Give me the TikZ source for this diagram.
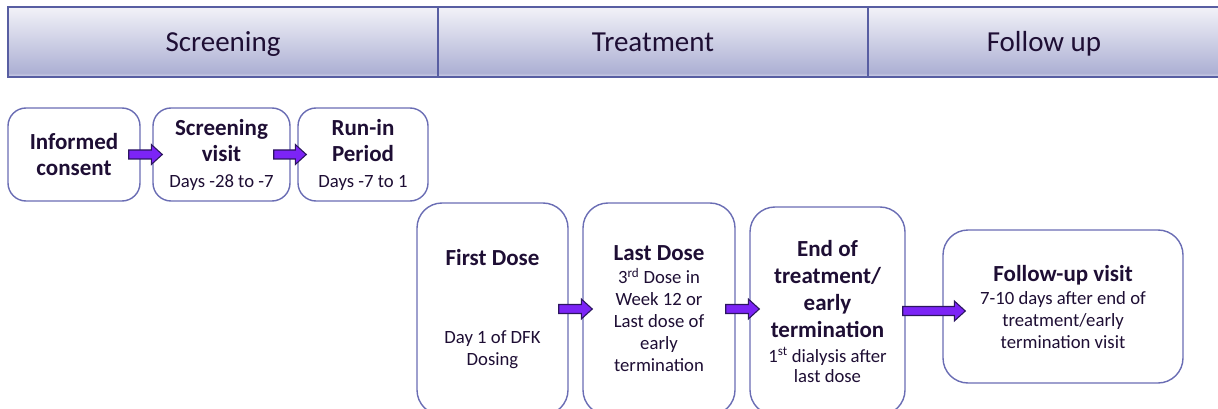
\documentclass[tikz,border=0pt]{standalone}
\usepackage{fontspec}
\setmainfont{Carlito}
\usepackage{tikz}
\usetikzlibrary{
	arrows.meta, positioning, calc
}
\definecolor{hdrtop}   {RGB}{242, 242, 248}
\definecolor{hdrbot}   {RGB}{173, 176, 212}
\definecolor{hdrlite}  {RGB}{214, 216, 236}
\definecolor{hdrline}  {RGB}{ 88,  94, 162}
\definecolor{boxline}  {RGB}{106, 109, 180}
\definecolor{flowfill} {RGB}{124,  36, 246}
\definecolor{flowline} {RGB}{ 44,  22,  96}
\definecolor{inktext}  {RGB}{ 30,  14,  52}

\pgfdeclareverticalshading{phaseshade}{100bp}{color(0bp)=(hdrbot); color(25bp)=(hdrlite); color(28bp)=(hdrbot); color(75bp)=(hdrtop); color(100bp)=(hdrtop)}

\newcommand{\hbold}{\fontsize{23}{26}\selectfont\bfseries}
\newcommand{\hsmall}{\fontsize{18.7}{22}\selectfont\mdseries}

% block arrow from one box into the next
\newcommand{\flow}[4]{%
	\draw[flowarrow] ($(#1.east)+(#3,-4.5)$) -- ($(#2.west |- #1.east)+(#4-11,-4.5)$) -- ++(0,-5.5)
		-- ($(#2.west |- #1.east)+(#4,0)$) -- ($(#2.west |- #1.east)+(#4-11,10)$) -- ++(0,-5.5)
		-- ($(#1.east)+(#3,4.5)$) -- cycle;}

\tikzset{
	phase/.style={draw=hdrline, line width=1.6pt, shade, shading=phaseshade, text=inktext,
		font=\fontsize{29}{34}\selectfont, inner sep=0pt, minimum height=70,
		text height=26, text depth=6},
	visit/.style={draw=boxline, line width=1.4pt, rounded corners=18, fill=white, text=inktext,
		align=center, inner sep=0pt},
	flowarrow/.style={fill=flowfill, draw=flowline, line width=1.1pt, line join=miter}
}

\begin{document}
\begin{tikzpicture}[x=1pt, y=-1pt]
	\useasboundingbox (0,0) rectangle (1218,409);
	% phases
	\node[phase, minimum width=430] (hscr) at (223,42) {Screening};
	\node[phase, minimum width=430] (htrt) at (653,42) {Treatment};
	\node[phase, minimum width=352] (hfu) at (1044,42) {Follow up};
	% screening row
	\node[visit, font=\hbold, minimum width=132, minimum height=93] (cons) at (74,154.5) {Informed\\consent};
	\node[visit, font=\hbold, minimum width=137, minimum height=93] (scrv) at (221.5,154.5) {Screening\\visit\\{\hsmall Days -28 to -7}};
	\node[visit, font=\hbold, minimum width=130, minimum height=93] (runin) at (363,154.5) {Run-in\\Period\\{\hsmall Days -7 to 1}};
	% treatment and follow up row
	\node[visit, font=\hsmall, rounded corners=25, minimum width=151, minimum height=212] (first) at (492.5,309)
		{{\hbold First Dose}\\[56pt]Day 1 of DFK\\Dosing};
	\node[visit, font=\hsmall, rounded corners=25, minimum width=152, minimum height=212] (last) at (659,309)
		{{\hbold Last Dose}\\[1pt]3\textsuperscript{rd} Dose in\\Week 12 or\\Last dose of\\early\\termination};
	\node[visit, font=\hsmall, rounded corners=25, minimum width=155, minimum height=208] (eot) at (827.5,311)
		{{\hbold End of}\\[5pt]{\hbold treatment/}\\[5pt]{\hbold early}\\[5pt]{\hbold termination}\\[3pt]1\textsuperscript{st} dialysis after\\[-2pt]last dose};
	\node[visit, font=\hsmall, rounded corners=25, minimum width=240, minimum height=153] (fu) at (1063,306.5)
		{{\hbold Follow-up visit}\\[1pt]7-10 days after end of\\treatment/early\\termination visit};
	% arrows
	\flow{cons}{scrv}{-12}{10}
	\flow{scrv}{runin}{-17}{9}
	\flow{first}{last}{-10}{10}
	\flow{last}{eot}{-10}{10}
	\flow{eot}{fu}{-3}{23}
\end{tikzpicture}
\end{document}
